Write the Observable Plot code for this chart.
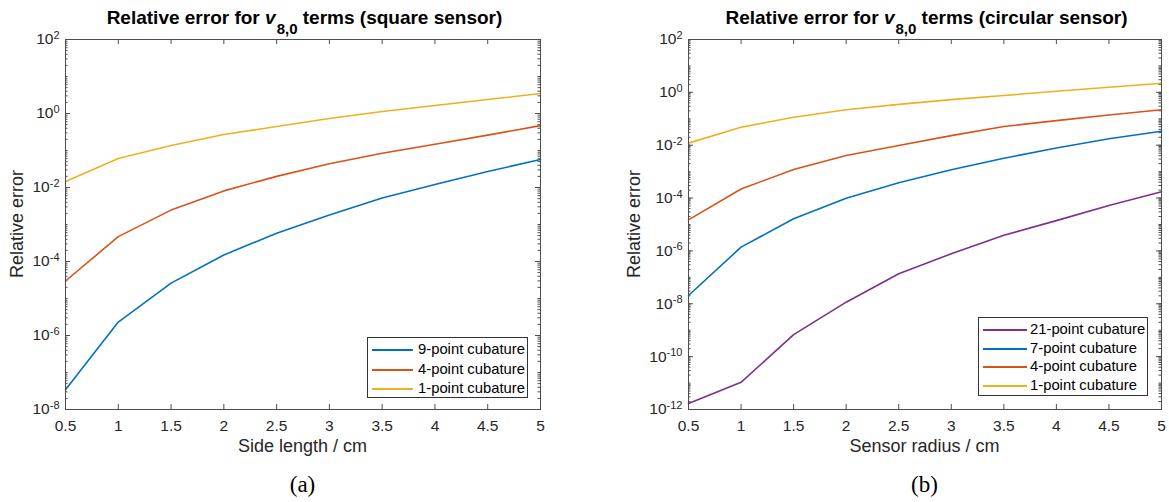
<!DOCTYPE html>
<html><head><meta charset="utf-8">
<script src="https://cdn.jsdelivr.net/npm/d3@7"></script>
<script src="https://cdn.jsdelivr.net/npm/@observablehq/plot@0.6"></script>
<style>
body{margin:0;background:#fff;}
#root{position:relative;width:1169px;height:502px;overflow:hidden;font-family:"Liberation Sans",Arial,Helvetica,sans-serif;color:#262626;}
.panel{position:absolute;top:0;}
.abs{position:absolute;white-space:nowrap;line-height:1;}
.title{font-weight:bold;font-size:19px;color:#000;transform:translateX(-50%);}
.title .sub{font-size:15px;position:relative;top:10px;margin-left:1px;}
.xlab{font-size:18px;transform:translateX(-50%);}
.ylab{font-size:18px;transform:translate(-50%,-50%) rotate(-90deg);}
.cap{font-family:"Liberation Serif","DejaVu Serif",serif;font-size:23px;color:#000;transform:translateX(-50%);}
.legend{position:absolute;border:1px solid #333;background:#fff;box-sizing:border-box;}
.legend .sw{position:absolute;height:0;border-top:2px solid;}
.legend .lt{position:absolute;font-size:14.8px;line-height:1;color:#000;}
</style>
</head><body><div id="root"></div>
<script>
// ---------- data ----------
const xVals = [0.5, 1, 1.5, 2, 2.5, 3, 3.5, 4, 4.5, 5];
const xTicks = [0.5, 1, 1.5, 2, 2.5, 3, 3.5, 4, 4.5, 5];

const squareSeries = ["9-point cubature", "4-point cubature", "1-point cubature"];
const square9 = [3.4e-8, 2.3e-6, 2.6e-5, 1.5e-4, 5.8e-4, 1.8e-3, 5.2e-3, 1.2e-2, 2.7e-2, 5.7e-2];
const square4 = [2.97e-5, 4.7e-4, 2.45e-3, 8.1e-3, 2.0e-2, 4.4e-2, 8.4e-2, 1.47e-1, 2.6e-1, 4.7e-1];
const square1 = [1.45e-2, 6.1e-2, 1.36e-1, 2.7e-1, 4.45e-1, 0.73, 1.13, 1.64, 2.39, 3.47];
const squareYTicks = [1e-8, 1e-6, 1e-4, 1e-2, 1e0, 1e2];

const circleSeries = ["21-point cubature", "7-point cubature", "4-point cubature", "1-point cubature"];
const circle21 = [1.7e-12, 1.07e-11, 6.8e-10, 1.15e-8, 1.36e-7, 7.8e-7, 3.9e-6, 1.4e-5, 5.2e-5, 1.73e-4];
const circle7 = [2.06e-8, 1.39e-6, 1.64e-5, 9.9e-5, 3.8e-4, 1.18e-3, 3.2e-3, 7.9e-3, 1.75e-2, 3.4e-2];
const circle4 = [1.5e-5, 2.2e-4, 1.2e-3, 4.1e-3, 9.8e-3, 2.3e-2, 5.1e-2, 8.5e-2, 1.4e-1, 2.2e-1];
const circle1 = [1.2e-2, 4.8e-2, 1.15e-1, 2.2e-1, 3.5e-1, 5.3e-1, 7.6e-1, 1.1, 1.55, 2.2];
const circleYTicks = [1e-12, 1e-10, 1e-8, 1e-6, 1e-4, 1e-2, 1e0, 1e2];

const colors = {"21-point cubature": "#7E2F8E", "7-point cubature": "#0072BD", "9-point cubature": "#0072BD", "4-point cubature": "#D95319", "1-point cubature": "#EDB120"};

// ---------- layout ----------
const H = 470;
const root = document.getElementById("root");

function panel(o) {
  const data = o.series.flatMap((s, i) => xVals.map((x, j) => ({x, y: o.values[i][j], s})));
  const innerW = o.width - o.ml - o.mr;
  const innerH = H - o.mt - o.mb;
  const e0 = Math.round(Math.log10(o.yDomain[0])), e1 = Math.round(Math.log10(o.yDomain[1]));
  const minor = [];
  for (let e = e0; e < e1; e++) for (let k = 1; k < 10; k++) minor.push(k * Math.pow(10, e));
  const tickColor = "#4d4d4d";
  const svg = Plot.plot({
    width: o.width, height: H,
    marginLeft: o.ml, marginRight: o.mr, marginTop: o.mt, marginBottom: o.mb,
    style: {fontFamily: "'Liberation Sans', Arial, sans-serif", fontSize: "15.5px", color: "#262626", background: "transparent", overflow: "visible"},
    x: {domain: [0.5, 5]},
    y: {type: "log", domain: o.yDomain},
    color: {domain: o.series, range: o.series.map(s => colors[s])},
    marks: [
      Plot.axisX({ticks: xTicks, tickSize: 0, tickPadding: 10, label: null, tickFormat: d => String(d)}),
      Plot.axisY({ticks: o.yTicks, tickSize: 0, tickPadding: 6, label: null, tickFormat: d => "10^" + Math.round(Math.log10(d))}),
      // inside ticks
      Plot.tickX(xTicks, {x: d => d, insetTop: innerH - 5, stroke: tickColor}),
      Plot.tickX(xTicks, {x: d => d, insetBottom: innerH - 5, stroke: tickColor}),
      Plot.tickY(o.yTicks, {y: d => d, insetRight: innerW - 5, stroke: tickColor}),
      Plot.tickY(o.yTicks, {y: d => d, insetLeft: innerW - 5, stroke: tickColor}),
      Plot.tickY(minor, {y: d => d, insetRight: innerW - 2.5, stroke: tickColor}),
      Plot.tickY(minor, {y: d => d, insetLeft: innerW - 2.5, stroke: tickColor}),
      Plot.line(data, {x: "x", y: "y", stroke: "s", strokeWidth: 1.6}),
      Plot.frame({stroke: tickColor})
    ]
  });
  // superscript exponents
  svg.querySelectorAll('[aria-label="y-axis tick label"] text').forEach(t => {
    const txt = t.textContent;
    const exp = txt.split("^")[1];
    t.textContent = "10";
    const ts = document.createElementNS("http://www.w3.org/2000/svg", "tspan");
    ts.setAttribute("dy", "-0.5em");
    ts.setAttribute("font-size", "11px");
    ts.textContent = exp;
    t.appendChild(ts);
  });
  const div = document.createElement("div");
  div.className = "panel";
  div.style.left = o.left + "px";
  div.appendChild(svg);
  root.appendChild(div);

  const cx = o.left + o.ml + innerW / 2;
  const add = (cls, html, left, top) => {
    const d = document.createElement("div");
    d.className = "abs " + cls;
    d.innerHTML = html;
    d.style.left = left + "px";
    d.style.top = top + "px";
    root.appendChild(d);
  };
  add("title", `Relative error for <i>v</i><span class="sub">8,0</span> terms (${o.sensor} sensor)`, cx + 2, 7.5);
  add("xlab", o.xLabel, cx, 437);
  add("ylab", "Relative error", o.yLabelX, o.mt + innerH / 2);
  add("cap", o.caption, cx, 473);

  // legend
  const lg = document.createElement("div");
  lg.className = "legend";
  const L = o.legend;
  lg.style.left = L.x + "px"; lg.style.top = L.y + "px";
  lg.style.width = L.w + "px"; lg.style.height = L.h + "px";
  o.series.forEach((s, i) => {
    const cy = L.first + i * L.step;
    const sw = document.createElement("div");
    sw.className = "sw";
    sw.style.left = L.swL + "px"; sw.style.width = L.swW + "px";
    sw.style.top = (cy - 1) + "px";
    sw.style.borderColor = colors[s];
    lg.appendChild(sw);
    const lt = document.createElement("div");
    lt.className = "lt";
    lt.style.left = L.txL + "px";
    lt.style.top = (cy - 8) + "px";
    lt.textContent = s;
    lg.appendChild(lt);
  });
  root.appendChild(lg);
}

panel({
  left: 0, width: 584, ml: 65, mr: 44, mt: 39, mb: 61,
  series: squareSeries, values: [square9, square4, square1],
  yDomain: [1e-8, 1e2], yTicks: squareYTicks,
  sensor: "square", xLabel: "Side length / cm", caption: "(a)", yLabelX: 17,
  legend: {x: 367, y: 337, w: 161, h: 61, first: 12, step: 19.5, swL: 4, swW: 41, txL: 50}
});
panel({
  left: 584, width: 585, ml: 104, mr: 8, mt: 39, mb: 61,
  series: circleSeries, values: [circle21, circle7, circle4, circle1],
  yDomain: [1e-12, 1e2], yTicks: circleYTicks,
  sensor: "circular", xLabel: "Sensor radius / cm", caption: "(b)", yLabelX: 634,
  legend: {x: 978, y: 317, w: 170, h: 79, first: 12, step: 18.7, swL: 4, swW: 44, txL: 51}
});
</script></body></html>
